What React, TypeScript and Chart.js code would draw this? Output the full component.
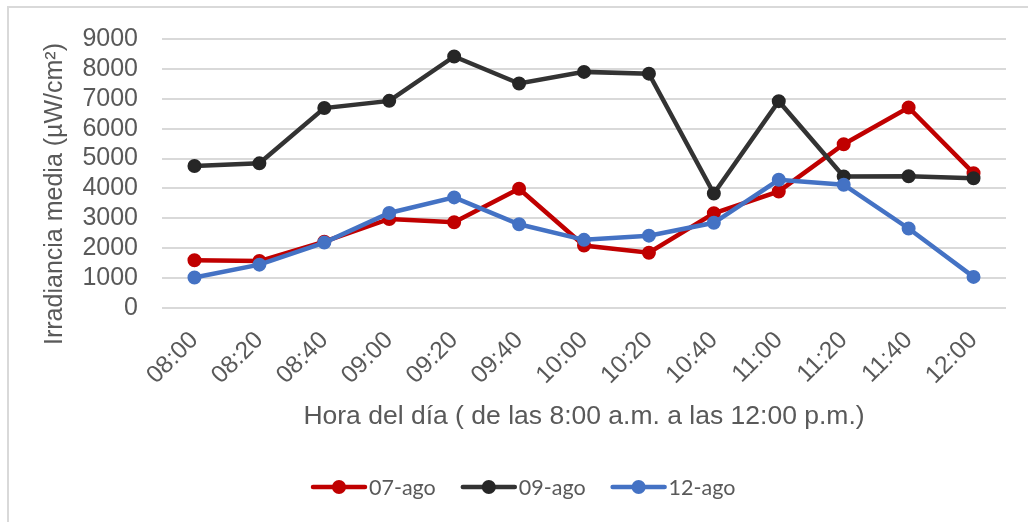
import React, { useEffect, useRef } from "react";
import { Chart, registerables } from "chart.js";

Chart.register(...registerables);

const categories = ["08:00", "08:20", "08:40", "09:00", "09:20", "09:40", "10:00", "10:20", "10:40", "11:00", "11:20", "11:40", "12:00"];
const series07 = [1600, 1570, 2220, 2980, 2870, 3990, 2090, 1850, 3170, 3900, 5480, 6710, 4510];
const series09 = [4750, 4840, 6690, 6930, 8415, 7510, 7900, 7840, 3830, 6920, 4400, 4410, 4340];
const series12 = [1020, 1450, 2190, 3180, 3700, 2800, 2280, 2420, 2850, 4290, 4125, 2660, 1040];
const seriesLabels = ["07-ago", "09-ago", "12-ago"];
const seriesColors = ["#C00000", "#333333", "#4472C4"];
const markerColors = ["#C00000", "#262626", "#4472C4"];
const yMin = 0;
const yMax = 9000;
const yStep = 1000;
const xTitle = "Hora del día ( de las 8:00 a.m. a las 12:00 p.m.)";
const yTitle = "Irradiancia media (µW/cm²)";

const TEXT = "#595959";
const AXIS_FONT = '"Liberation Sans", Arial, sans-serif';
const LEGEND_FONT = 'Lato, "Noto Sans", sans-serif';

const decorPlugin = {
  id: "decor",
  afterDraw(chart: any) {
    const ctx = chart.ctx as CanvasRenderingContext2D;
    // y axis title
    ctx.save();
    ctx.translate(55, 194);
    ctx.rotate(-Math.PI / 2);
    ctx.font = `25px ${AXIS_FONT}`;
    ctx.fillStyle = TEXT;
    ctx.textAlign = "center";
    ctx.textBaseline = "middle";
    ctx.fillText(yTitle, 0, 0);
    ctx.restore();

    // legend
    ctx.save();
    ctx.font = `21.5px ${LEGEND_FONT}`;
    ctx.textBaseline = "middle";
    ctx.textAlign = "left";
    let x = 311;
    const cy = 487;
    chart.data.datasets.forEach((ds: any) => {
      ctx.strokeStyle = ds.borderColor;
      ctx.lineWidth = 4.5;
      ctx.lineCap = "round";
      ctx.beginPath();
      ctx.moveTo(x + 2, cy);
      ctx.lineTo(x + 54, cy);
      ctx.stroke();
      ctx.fillStyle = ds.pointBackgroundColor;
      ctx.beginPath();
      ctx.arc(x + 28, cy, 7, 0, Math.PI * 2);
      ctx.fill();
      ctx.fillStyle = TEXT;
      ctx.fillText(ds.label, x + 58, cy + 1);
      const w = ctx.measureText(ds.label).width;
      x += 58 + w + 25;
    });
    ctx.restore();
  },
};

export default function App() {
  const ref = useRef<HTMLCanvasElement | null>(null);

  useEffect(() => {
    if (!ref.current) return;
    const seriesData = [series07, series09, series12];
    const chart = new Chart(ref.current, {
      type: "line",
      data: {
        labels: categories,
        datasets: seriesData.map((d, i) => ({
          label: seriesLabels[i],
          data: d,
          borderColor: seriesColors[i],
          backgroundColor: seriesColors[i],
          pointBackgroundColor: markerColors[i],
          pointBorderColor: markerColors[i],
          borderWidth: 4.5,
          pointRadius: 6,
          pointBorderWidth: 2,
          pointHoverRadius: 6,
          tension: 0,
          fill: false,
          order: 3 - i,
        })),
      },
      options: {
        animation: false,
        responsive: false,
        layout: { padding: { left: 0, right: 22, top: 36, bottom: 80 } },
        plugins: {
          legend: { display: false },
          tooltip: { enabled: false },
        },
        scales: {
          x: {
            offset: true,
            grid: { display: false, drawTicks: false },
            border: { display: false },
            ticks: {
              color: TEXT,
              font: { family: AXIS_FONT, size: 24.5 },
              minRotation: 45,
              maxRotation: 45,
              autoSkip: false,
              padding: 18,
            },
            title: {
              display: true,
              text: xTitle,
              color: TEXT,
              font: { family: AXIS_FONT, size: 26.5 },
              padding: { top: 0, bottom: 9 },
            },
            afterFit(scale: any) {
              scale.height = 134;
            },
          },
          y: {
            min: yMin,
            max: yMax,
            grid: { color: "#d9d9d9", lineWidth: 2, drawTicks: false },
            border: { display: false },
            ticks: {
              stepSize: yStep,
              autoSkip: false,
              color: TEXT,
              font: { family: AXIS_FONT, size: 25 },
              padding: 24,
              callback: (v: any) => String(v),
            },
            afterFit(scale: any) {
              scale.width = 162;
            },
          },
        },
      },
      plugins: [decorPlugin],
    });
    return () => chart.destroy();
  }, []);

  return (
    <>
      <div
        style={{
          position: "absolute",
          left: 7,
          top: 6,
          width: 1021,
          height: 516,
          boxSizing: "border-box",
          borderTop: "2px solid #d9d9d9",
          borderLeft: "2px solid #d9d9d9",
          background: "#ffffff",
        }}
      />
      <div style={{ position: "absolute", left: 0, top: 0, width: 1028, height: 522 }}>
        <canvas ref={ref} width={1028} height={522} style={{ display: "block" }} />
      </div>
    </>
  );
}
